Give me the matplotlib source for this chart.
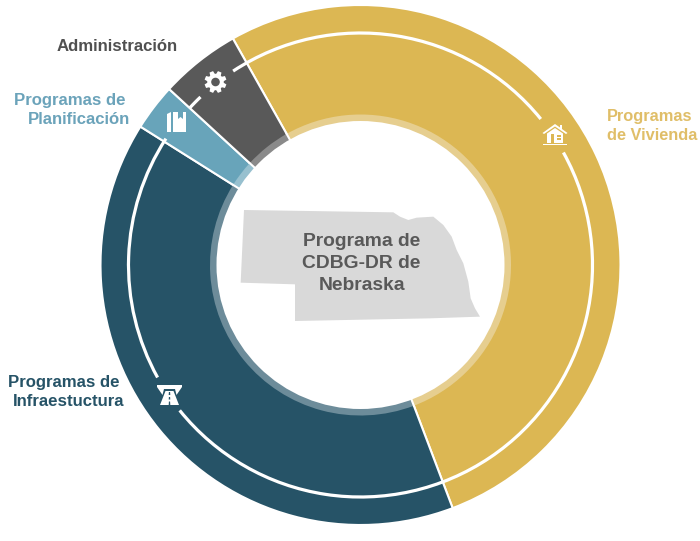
import numpy as np
import matplotlib
matplotlib.use("Agg")
import matplotlib.pyplot as plt
from matplotlib.patches import Arc, Polygon, Circle

plt.rcParams['font.family'] = ['Liberation Sans', 'DejaVu Sans']

# Data
categories = ["Programas de Vivienda", "Programas de Infraestuctura", "Programas de Planificación", "Administración"]
values = [52.4, 39.7, 2.9, 5.0]
colors = ["#DCB753", "#265367", "#68A4BA", "#595959"]
inner_colors = ["#E6CE8F", "#6D8C9A", "#97C0CF", "#8A8A8A"]

W, H = 700, 541
CX, CY, R = 360.5, 265, 260
R_BAND, R_HOLE = 150.5, 144
def Y(y):
    return H - y

fig = plt.figure(figsize=(7, 5.41), dpi=100, facecolor="white")
ax = fig.add_axes([0, 0, 1, 1])

start = 90 + 29.4
ax.pie(values, colors=colors, startangle=start, counterclock=False, radius=R,
       center=(CX, Y(CY)), wedgeprops=dict(width=R - R_HOLE + 2, edgecolor="white", linewidth=1.5))
ax.pie(values, colors=inner_colors, startangle=start, counterclock=False, radius=R_BAND,
       center=(CX, Y(CY)), wedgeprops=dict(width=R_BAND - R_HOLE + 2, edgecolor="none", linewidth=0))
# white separators run through the inner band
for frac in np.cumsum(values) / np.sum(values):
    t = np.deg2rad(start - 360 * frac)
    ax.plot([CX + (R_HOLE - 2) * np.cos(t), CX + (R_BAND + 1) * np.cos(t)],
            [Y(CY) + (R_HOLE - 2) * np.sin(t), Y(CY) + (R_BAND + 1) * np.sin(t)],
            color="white", lw=1.5, zorder=1.5, solid_capstyle="butt")
ax.add_patch(Circle((CX, Y(CY)), R_HOLE, facecolor="white", edgecolor="none", zorder=2))
ax.set_xlim(0, W)
ax.set_ylim(0, H)
ax.set_aspect("equal")
ax.axis("off")

# White ring segments (clockwise degrees from the top)
ring = [(-33.3, 51), (61, 231.2), (241, 303), (-47.4, -43.6)]
for a, b in ring:
    ax.add_patch(Arc((CX, Y(CY)), 2 * 232, 2 * 232, theta1=90 - b, theta2=90 - a,
                     color="white", lw=2.3, zorder=5))

# Nebraska outline
zoom_pts = [(42, 45), (300, 49), (490, 52), (510, 65), (535, 75), (560, 68), (610, 65), (640, 90),
            (665, 125), (680, 165), (700, 205), (715, 260), (722, 310), (735, 340), (750, 365),
            (600, 370), (195, 378), (195, 268), (32, 263)]
neb = [(230 + x / 3, Y(195 + y / 3)) for x, y in zoom_pts]
ax.add_patch(Polygon(neb, closed=True, facecolor="#D9D9D9", edgecolor="none", zorder=3))

def poly(pts, color="white", z=6):
    ax.add_patch(Polygon([(x, Y(y)) for x, y in pts], closed=True, facecolor=color, edgecolor="none", zorder=z))

# Gear icon
gx, gy = 215.5, 82
for k in range(8):
    t = np.pi * k / 4 + np.pi / 8
    d = np.array([np.cos(t), np.sin(t)]); n = np.array([-d[1], d[0]])
    c = np.array([gx, gy])
    poly([c + d * 7 + n * 2.6, c + d * 11 + n * 1.9, c + d * 11 - n * 1.9, c + d * 7 - n * 2.6])
ax.add_patch(Circle((gx, Y(gy)), 8.2, facecolor="white", edgecolor="none", zorder=6))
ax.add_patch(Circle((gx, Y(gy)), 4.3, facecolor=colors[3], edgecolor="none", zorder=7))

# Book icon
poly([(167, 114), (171, 112), (171, 132), (167, 132)])
poly([(173, 112), (178, 112), (178, 119), (180.5, 117), (183, 119), (183, 112), (186, 112), (186, 132), (173, 132)])

# House icon
poly([(555, 124), (560, 127.5), (560, 125), (562, 125), (562, 129), (567.5, 133), (566, 134), (555, 126.5), (544, 134), (542.5, 133)])
poly([(555, 128), (563, 133.5), (563, 143), (547, 143), (547, 133.5)])
poly([(543, 143.5), (567, 143.5), (567, 145), (543, 145)])
poly([(550.5, 134), (554, 134), (554, 143), (550.5, 143)], colors[0], 7)
poly([(556.5, 135), (561, 135), (561, 140), (556.5, 140)], colors[0], 7)
poly([(558.5, 135), (559.1, 135), (559.1, 140), (558.5, 140)], "white", 8)
poly([(556.5, 137.3), (561, 137.3), (561, 137.9), (556.5, 137.9)], "white", 8)

# Road icon
poly([(157, 385), (182, 385), (182, 387), (176.5, 395), (175, 389), (164, 389), (162.5, 395), (157, 387)])
poly([(165.5, 391), (173.5, 391), (179, 405), (160, 405)])
for y0, y1 in [(392, 395), (397, 399.5), (401.5, 405)]:
    poly([(168.9, y0), (170.1, y0), (170.3, y1), (168.7, y1)], colors[1], 7)

# Labels
labels = [
    ("Administración", 178, 46.5, "right", "#505050", 12.1),
    ("Programas de", 126, 100, "right", "#6BA3BA", 12.1),
    ("Planificación", 130, 119, "right", "#6BA3BA", 12.1),
    ("Programas de", 120, 382, "right", "#265367", 12.1),
    ("Infraestuctura", 124, 402, "right", "#265367", 12.1),
    ("Programas", 607, 117, "left", "#E0BE68", 11.8),
    ("de Vivienda", 607, 136, "left", "#E0BE68", 11.8),
]
for s, x, y, ha, c, fs in labels:
    ax.text(x, Y(y), s, ha=ha, va="center", color=c, fontsize=fs, fontweight="bold", zorder=9)

for s, y in [("Programa de", 241), ("CDBG-DR de", 263), ("Nebraska", 285)]:
    ax.text(361.5, Y(y), s, ha="center", va="center", color="#595959", fontsize=13.9, fontweight="bold", zorder=9)

fig.savefig("out.png", dpi=100, facecolor="white")
